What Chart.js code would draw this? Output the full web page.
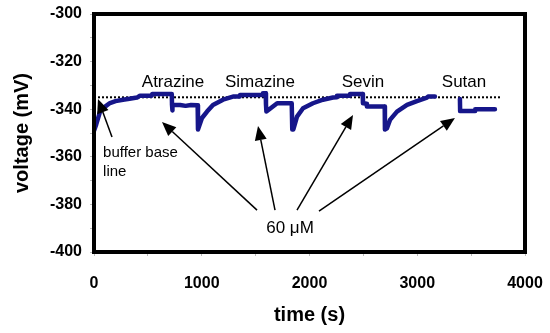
<!DOCTYPE html>
<html>
<head>
<meta charset="utf-8">
<script src="https://cdn.jsdelivr.net/npm/chart.js@4"></script>
<style>
  html, body { margin: 0; padding: 0; background: #fff; }
  #wrap { width: 550px; height: 333px; }
</style>
</head>
<body>
<div id="wrap"><canvas id="voltageChart" width="550" height="333"></canvas></div>
<script>
// Recorded trace (time in s, voltage in mV); null marks the gap before Sutan
const timeValues = [
  0, 20, 56, 100, 148, 200, 269, 330, 399, 427, 536, 540, 722, 724, 726, 730, 800, 850, 900, 962,
  965, 1002, 1049, 1104, 1197, 1290, 1353, 1355, 1500, 1566, 1568, 1594, 1596, 1600, 1700, 1835, 1840,
  1850, 1884, 1940, 2032, 2125, 2218, 2253, 2255, 2374, 2376, 2494, 2496, 2500, 2531, 2533, 2698, 2700,
  2719, 2747, 2812, 2905, 2997, 3090, 3100, 3164,
  3300,
  3396, 3398, 3536, 3538, 3721
];
const voltageValues = [
  -349, -346.5, -341, -339, -337.4, -336.6, -336, -335.6, -335.1, -334.3, -334.3, -333.6, -333.6, -338.2, -340.5, -338.2, -338.2, -338.6, -338.2, -338.3,
  -348.5, -343.7, -341, -338.2, -336, -334.7, -334.7, -334, -334, -334, -333.3, -333.3, -338, -341, -337.5, -337.5, -348.5,
  -348.5, -343.1, -339.6, -337.5, -336, -335.1, -335, -334.3, -334.3, -333.6, -333.6, -337.5, -337.5, -337.7, -338.9, -338.9, -348.5,
  -348, -344.5, -341, -338.2, -336.6, -335.1, -334.7, -334.7,
  null,
  -335.7, -340.8, -340.8, -340, -340
];

// Buffer base line
const baselineTimes = [0, 3770];
const baselineVoltage = [-335, -335];

// Labels of the pesticides, placed in data units
const pesticideNames = ["Atrazine", "Simazine", "Sevin", "Sutan"];
const pesticideLabelTimes = [733, 1540, 2496, 3434];
const pesticideLabelVoltage = -328.6;

// Arrows [tailTime, tailVoltage, tipTime, tipVoltage]
const bufferArrow = [167, -351.7, 37, -335.7];
const doseArrows = [
  [1513, -382.4, 631, -345.4],
  [1680, -382.4, 1522, -347.1],
  [1884, -382.4, 2404, -342.4],
  [2088, -382.8, 3350, -343.7]
];

const traceData = timeValues.map((t, i) => ({ x: t, y: voltageValues[i] }));
const baselineData = baselineTimes.map((t, i) => ({ x: t, y: baselineVoltage[i] }));

function drawArrow(ctx, x1, y1, x2, y2) {
  const ang = Math.atan2(y2 - y1, x2 - x1);
  const len = 14, half = 6;
  const bx = x2 - len * Math.cos(ang), by = y2 - len * Math.sin(ang);
  ctx.beginPath();
  ctx.moveTo(x1, y1);
  ctx.lineTo(bx, by);
  ctx.stroke();
  ctx.beginPath();
  ctx.moveTo(x2, y2);
  ctx.lineTo(bx + half * Math.sin(ang), by - half * Math.cos(ang));
  ctx.lineTo(bx - half * Math.sin(ang), by + half * Math.cos(ang));
  ctx.closePath();
  ctx.fill();
}

// Plot frame, labels and arrows
const annotationPlugin = {
  id: "annotations",
  afterDraw(chart) {
    const { ctx, chartArea, scales } = chart;
    const px = (t) => scales.x.getPixelForValue(t);
    const py = (v) => scales.y.getPixelForValue(v);
    ctx.save();
    ctx.strokeStyle = "#000";
    ctx.lineWidth = 4;
    ctx.strokeRect(chartArea.left, chartArea.top, chartArea.right - chartArea.left, chartArea.bottom - chartArea.top);

    ctx.fillStyle = "#000";
    ctx.textBaseline = "middle";
    ctx.textAlign = "center";
    ctx.font = "17px 'Liberation Sans', Arial, sans-serif";
    pesticideNames.forEach((name, i) => {
      ctx.fillText(name, px(pesticideLabelTimes[i]), py(pesticideLabelVoltage));
    });
    ctx.fillText("60 \u03bcM", px(1819), py(-389.9));

    ctx.textAlign = "left";
    ctx.font = "15px 'Liberation Sans', Arial, sans-serif";
    ctx.fillText("buffer base", px(84), py(-358.4));
    ctx.fillText("line", px(84), py(-366.4));

    ctx.lineWidth = 1.5;
    [bufferArrow, ...doseArrows].forEach((a) => {
      drawArrow(ctx, px(a[0]), py(a[1]), px(a[2]), py(a[3]));
    });
    ctx.restore();
  }
};

const tickFont = { family: "'Liberation Sans', Arial, sans-serif", size: 16, weight: "bold" };
const titleFont = { family: "'Liberation Sans', Arial, sans-serif", size: 20, weight: "bold" };

new Chart(document.getElementById("voltageChart").getContext("2d"), {
  type: "line",
  data: {
    datasets: [
      {
        label: "trace",
        data: traceData,
        borderColor: "#16168a",
        borderWidth: 4.5,
        borderCapStyle: "round",
        borderJoinStyle: "round",
        pointRadius: 0,
        tension: 0,
        spanGaps: false
      },
      {
        label: "buffer base line",
        data: baselineData,
        borderColor: "#000",
        borderWidth: 2,
        borderDash: [2, 2],
        pointRadius: 0
      }
    ]
  },
  options: {
    responsive: false,
    animation: false,
    layout: { padding: { top: 14, right: 25, left: 0, bottom: 0 } },
    plugins: { legend: { display: false }, tooltip: { enabled: false } },
    scales: {
      x: {
        type: "linear",
        min: 0,
        max: 4000,
        afterFit: (scale) => {
          scale.height = 81;
          scale.paddingLeft = 0;
          scale.paddingRight = 0;
        },
        border: { display: false },
        grid: { drawOnChartArea: false, tickLength: 4, color: "#bbb" },
        ticks: {
          stepSize: 500,
          padding: 18,
          color: "#000",
          font: tickFont,
          maxRotation: 0,
          callback: (v) => (v % 1000 === 0 ? v : "")
        },
        title: { display: true, text: "time (s)", color: "#000", font: titleFont, padding: { top: 0, bottom: 6 } }
      },
      y: {
        min: -400,
        max: -300,
        afterFit: (scale) => {
          scale.width = 94;
          scale.paddingTop = 0;
          scale.paddingBottom = 0;
        },
        border: { display: false },
        grid: { drawOnChartArea: false, tickLength: 4, color: "#bbb" },
        ticks: {
          stepSize: 10,
          padding: 8,
          color: "#000",
          font: tickFont,
          callback: (v) => (v % 20 === 0 ? v : "")
        },
        title: { display: true, text: "voltage (mV)", color: "#000", font: titleFont, padding: { top: 10, bottom: 0 } }
      }
    }
  },
  plugins: [annotationPlugin]
});
</script>
</body>
</html>
